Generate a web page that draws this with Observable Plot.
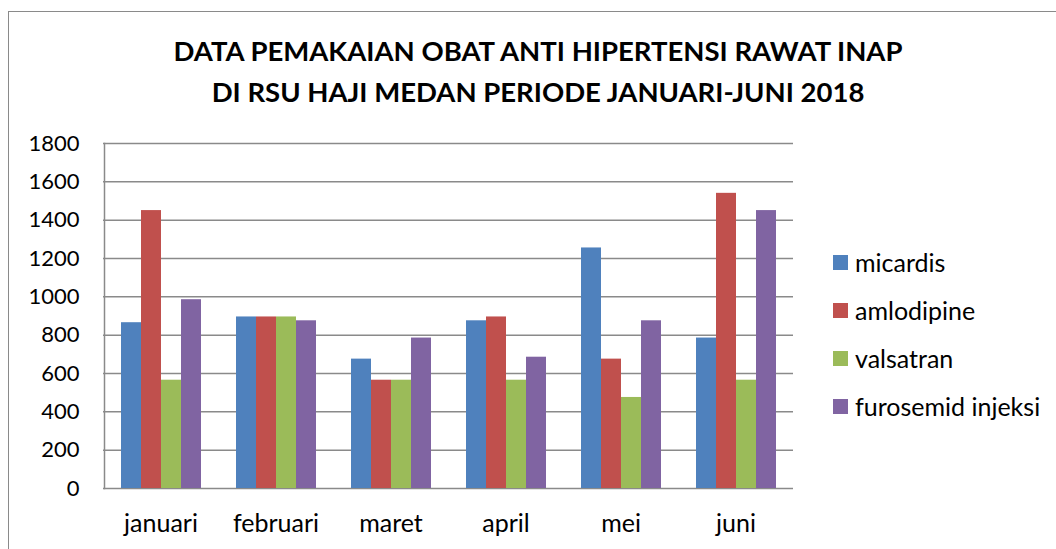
<!DOCTYPE html>
<html>
<head>
<meta charset="utf-8">
<script src="https://cdn.jsdelivr.net/npm/d3@7"></script>
<script src="https://cdn.jsdelivr.net/npm/@observablehq/plot@0.6"></script>
<style>
  html, body { margin: 0; padding: 0; background: #fff; }
  #wrap { position: relative; width: 1056px; height: 549px; overflow: hidden; font-family: Lato, "Open Sans", sans-serif; color: #000; }
  #border { position: absolute; left: 8px; top: 11px; width: 1100px; height: 600px; border-left: 1.5px solid #8a8a8a; border-top: 1.5px solid #8a8a8a; }
  #title { position: absolute; left: 0; width: 1076px; top: 30px; text-align: center; font-weight: bold; font-size: 27.5px; line-height: 41px; }
  #chart { position: absolute; left: 0; top: 120px; }
  #legend { position: absolute; left: 833px; top: 238px; }
  .item { display: flex; align-items: center; height: 48px; font-size: 25px; }
  .sw { width: 15px; height: 15px; margin-right: 7px; }
</style>
</head>
<body>
<div id="wrap">
  <div id="border"></div>
  <div id="title">DATA PEMAKAIAN OBAT ANTI HIPERTENSI RAWAT INAP<br>DI RSU HAJI MEDAN PERIODE JANUARI-JUNI 2018</div>
  <div id="chart"></div>
  <div id="legend"></div>
</div>
<script>
const months = ["januari", "februari", "maret", "april", "mei", "juni"];
const seriesNames = ["micardis", "amlodipine", "valsatran", "furosemid injeksi"];
const micardis = [865, 895, 675, 875, 1255, 785];
const amlodipine = [1450, 895, 565, 895, 675, 1540];
const valsatran = [565, 895, 565, 565, 475, 565];
const furosemid = [985, 875, 785, 685, 875, 1450];
const colors = ["#4F81BD", "#C0504D", "#9BBB59", "#8064A2"];
const yTicks = [0, 200, 400, 600, 800, 1000, 1200, 1400, 1600, 1800];

const seriesValues = [micardis, amlodipine, valsatran, furosemid];
const table = months.flatMap((m, i) => seriesNames.map((s, j) => ({month: m, series: s, value: seriesValues[j][i]})));

const plot = Plot.plot({
  width: 800,
  height: 428,
  marginLeft: 104,
  marginRight: 8,
  marginTop: 23,
  marginBottom: 60,
  style: {fontFamily: "Lato, 'Open Sans', sans-serif", fontSize: "22px", color: "#000", background: "transparent", overflow: "visible"},
  fx: {domain: months, paddingInner: 0.278, paddingOuter: 0.13, label: null},
  x: {domain: seriesNames, padding: 0, axis: null},
  y: {domain: [0, 1800], label: null, axis: null},
  color: {domain: seriesNames, range: colors},
  marks: [
    Plot.ruleY(yTicks, {stroke: "#8a8a8a", strokeWidth: 1.5, insetLeft: -16, insetRight: -16}),
    Plot.frame({facetAnchor: "left", anchor: "left", insetLeft: -15, stroke: "#8a8a8a", strokeWidth: 1.5}),
    Plot.barY(table, {fx: "month", x: "series", y: "value", fill: "series"}),
    Plot.axisY({ticks: yTicks, tickFormat: d => String(d), tickSize: 0, tickPadding: 40, fontSize: 22, label: null}),
    Plot.axisFx({anchor: "bottom", tickSize: 0, tickPadding: 26, fontSize: 25, label: null})
  ]
});
document.getElementById("chart").appendChild(plot);

const legend = document.getElementById("legend");
seriesNames.forEach((s, j) => {
  const item = document.createElement("div");
  item.className = "item";
  const sw = document.createElement("div");
  sw.className = "sw";
  sw.style.background = colors[j];
  const label = document.createElement("span");
  label.textContent = s;
  item.appendChild(sw);
  item.appendChild(label);
  legend.appendChild(item);
});
</script>
</body>
</html>
